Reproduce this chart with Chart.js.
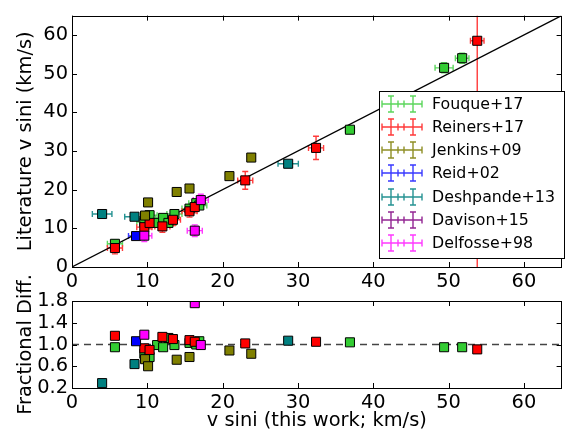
<!DOCTYPE html>
<html>
<head>
<meta charset="utf-8">
<script src="https://cdn.jsdelivr.net/npm/chart.js@4.4.0/dist/chart.umd.min.js"></script>
<style>
  html, body { margin: 0; padding: 0; background: #fff; }
  #wrap { position: relative; width: 569px; height: 437px; }
  canvas { position: absolute; left: 0; }
  #top { top: 0; }
  #bot { top: 230px; }
</style>
</head>
<body>
<div id="wrap">
  <canvas id="top" width="569" height="290"></canvas>
  <canvas id="bot" width="569" height="207"></canvas>
</div>
<script>
const FONT = 'DejaVu Sans';

const xTicks = [0, 10, 20, 30, 40, 50, 60];
const yTicks = [0, 10, 20, 30, 40, 50, 60];
const fracTicks = [0.2, 0.6, 1.0, 1.4, 1.8];

// Fouque+17
const fouqueX    = [5.7, 9.6, 10.3, 11.3, 12.1, 12.8, 13.6, 15.6, 16.5, 16.9, 36.9, 49.4, 51.8];
const fouqueY    = [6.0, 11.6, 13.4, 11.4, 12.7, 11.4, 13.7, 15.1, 16.5, 15.9, 35.5, 51.5, 54.0];
const fouqueXErr = [1.0, 1.0, 1.0, 1.0, 1.0, 1.0, 1.0, 1.0, 1.0, 1.0, 0.6, 1.2, 0.9];
const fouqueYErr = [1.0, 1.0, 1.0, 1.0, 1.0, 1.0, 1.0, 1.0, 1.0, 1.0, 0.8, 1.3, 1.3];
const fouqueFrac = [0.95, 0.83, 0.77, 0.99, 0.95, 1.12, 0.99, 1.03, 1.00, 1.06, 1.04, 0.95, 0.95];

// Reiners+17
const reinersX    = [5.7, 9.6, 10.3, 12.0, 13.4, 15.6, 16.3, 23.0, 32.4, 53.8];
const reinersY    = [4.9, 10.3, 11.4, 10.5, 12.2, 14.4, 15.5, 22.4, 30.8, 58.5];
const reinersXErr = [1.0, 1.0, 1.0, 1.0, 1.0, 1.0, 1.0, 1.0, 1.0, 0.9];
const reinersYErr = [1.5, 1.5, 1.5, 1.5, 1.5, 1.5, 1.5, 2.3, 3.0, 60];
const reinersFrac = [1.16, 0.93, 0.90, 1.14, 1.10, 1.08, 1.05, 1.02, 1.05, 0.91];

// Jenkins+09
const jenkinsX    = [9.7, 10.1, 13.9, 15.6, 20.9, 23.8];
const jenkinsY    = [13.3, 16.7, 19.4, 20.3, 23.5, 28.3];
const jenkinsXErr = [0.5, 0.5, 0.5, 0.5, 0.5, 0.5];
const jenkinsYErr = [0.5, 0.5, 0.5, 0.5, 0.5, 0.5];
const jenkinsFrac = [0.73, 0.60, 0.72, 0.77, 0.89, 0.83];

// Reid+02
const reidX    = [8.5];
const reidY    = [8.0];
const reidXErr = [1.0];
const reidYErr = [0.3];
const reidFrac = [1.06];

// Deshpande+13
const deshX    = [4.0, 8.3, 28.7];
const deshY    = [13.7, 13.0, 26.7];
const deshXErr = [1.3, 1.3, 1.35];
const deshYErr = [0.3, 0.3, 0.3];
const deshFrac = [0.29, 0.64, 1.07];

// Davison+15
const davisonX    = [];
const davisonY    = [];
const davisonXErr = [];
const davisonYErr = [];
const davisonFrac = [];

// Delfosse+98
const delfosseX    = [9.6, 16.3, 17.1];
const delfosseY    = [8.1, 9.4, 17.3];
const delfosseXErr = [1.0, 1.0, 1.0];
const delfosseYErr = [1.5, 1.5, 1.5];
const delfosseFrac = [1.18, 1.76, 0.99];

const series = [
  { label: 'Fouque+17',    x: fouqueX,   y: fouqueY,   xErr: fouqueXErr,   yErr: fouqueYErr,   frac: fouqueFrac,   color: '#33cc33', err: '#5cd65c' },
  { label: 'Reiners+17',   x: reinersX,  y: reinersY,  xErr: reinersXErr,  yErr: reinersYErr,  frac: reinersFrac,  color: '#ff0000', err: '#ff3a3a' },
  { label: 'Jenkins+09',   x: jenkinsX,  y: jenkinsY,  xErr: jenkinsXErr,  yErr: jenkinsYErr,  frac: jenkinsFrac,  color: '#808000', err: '#8f8f26' },
  { label: 'Reid+02',      x: reidX,     y: reidY,     xErr: reidXErr,     yErr: reidYErr,     frac: reidFrac,     color: '#0000ff', err: '#3a3aff' },
  { label: 'Deshpande+13', x: deshX,     y: deshY,     xErr: deshXErr,     yErr: deshYErr,     frac: deshFrac,     color: '#008080', err: '#269393' },
  { label: 'Davison+15',   x: davisonX,  y: davisonY,  xErr: davisonXErr,  yErr: davisonYErr,  frac: davisonFrac,  color: '#800080', err: '#932693' },
  { label: 'Delfosse+98',  x: delfosseX, y: delfosseY, xErr: delfosseXErr, yErr: delfosseYErr, frac: delfosseFrac, color: '#ff00ff', err: '#ff3aff' }
];

Chart.defaults.font.family = FONT;
Chart.defaults.color = '#000';

function setTicks(list) {
  return s => { s.ticks = list.map(v => ({ value: v })); };
}
const crisp = v => Math.round(v) + 0.5;

// frame + inward tick marks like matplotlib
const frame = {
  id: 'frame',
  afterDatasetsDraw(chart) {
    const { ctx, chartArea: a, scales: { x, y } } = chart;
    ctx.save();
    ctx.strokeStyle = '#000';
    ctx.lineWidth = 1;
    ctx.beginPath();
    x.ticks.forEach(t => {
      const px = crisp(x.getPixelForValue(t.value));
      ctx.moveTo(px, a.bottom); ctx.lineTo(px, a.bottom - 5);
      ctx.moveTo(px, a.top); ctx.lineTo(px, a.top + 5);
    });
    y.ticks.forEach(t => {
      const py = crisp(y.getPixelForValue(t.value));
      ctx.moveTo(a.left, py); ctx.lineTo(a.left + 5, py);
      ctx.moveTo(a.right, py); ctx.lineTo(a.right - 5, py);
    });
    ctx.stroke();
    ctx.strokeRect(Math.round(a.left) + 0.5, Math.round(a.top) + 0.5, Math.round(a.width) - 1, Math.round(a.height));
    ctx.restore();
  }
};

const errorBars = {
  id: 'errorBars',
  beforeDatasetsDraw(chart) {
    const { ctx, chartArea: a, scales: { x, y } } = chart;
    ctx.save();
    ctx.beginPath(); ctx.rect(a.left, a.top, a.width, a.height); ctx.clip();
    ctx.lineWidth = 1.4;
    chart.data.datasets.forEach(ds => {
      if (!ds.xErr) return;
      ctx.strokeStyle = ds.errColor;
      ds.data.forEach((p, i) => {
        const px = x.getPixelForValue(p.x), py = y.getPixelForValue(p.y);
        const x0 = x.getPixelForValue(p.x - ds.xErr[i]), x1 = x.getPixelForValue(p.x + ds.xErr[i]);
        const y0 = y.getPixelForValue(p.y - ds.yErr[i]), y1 = y.getPixelForValue(p.y + ds.yErr[i]);
        ctx.beginPath();
        ctx.moveTo(x0, py); ctx.lineTo(x1, py);
        ctx.moveTo(x0, py - 3); ctx.lineTo(x0, py + 3);
        ctx.moveTo(x1, py - 3); ctx.lineTo(x1, py + 3);
        ctx.moveTo(px, y0); ctx.lineTo(px, y1);
        ctx.moveTo(px - 3, y0); ctx.lineTo(px + 3, y0);
        ctx.moveTo(px - 3, y1); ctx.lineTo(px + 3, y1);
        ctx.stroke();
      });
    });
    ctx.restore();
  }
};

const boxLegend = {
  id: 'boxLegend',
  afterDraw(chart) {
    const { ctx } = chart;
    const L = 379, T = 91, R = 564, B = 258, row = 23.3;
    ctx.save();
    ctx.fillStyle = '#fff';
    ctx.fillRect(L, T, R - L, B - T);
    ctx.strokeStyle = '#000';
    ctx.lineWidth = 1;
    ctx.strokeRect(L + 0.5, T + 0.5, R - L, B - T);
    ctx.font = '15.8px "' + FONT + '"';
    ctx.textBaseline = 'middle';
    ctx.lineWidth = 1.4;
    series.forEach((s, i) => {
      const cy = Math.round(T + 12.5 + i * row);
      ctx.strokeStyle = s.err;
      ctx.beginPath();
      ctx.moveTo(382, cy); ctx.lineTo(422, cy);
      [382, 398, 404, 422].forEach(px => { ctx.moveTo(px, cy - 3.5); ctx.lineTo(px, cy + 3.5); });
      [391, 413].forEach(px => {
        ctx.moveTo(px, cy - 8); ctx.lineTo(px, cy + 8);
        ctx.moveTo(px - 3, cy - 8); ctx.lineTo(px + 3, cy - 8);
        ctx.moveTo(px - 3, cy + 8); ctx.lineTo(px + 3, cy + 8);
      });
      ctx.stroke();
      ctx.fillStyle = '#000';
      ctx.fillText(s.label, 432, cy + 1);
    });
    ctx.restore();
  }
};

const pointStyle = (s, order) => ({
  backgroundColor: s.color,
  borderColor: '#000',
  borderWidth: 1,
  pointStyle: 'rect',
  pointRadius: 6.4,
  pointHoverRadius: 6.4,
  order: order
});

// top panel
const topSets = series.map((s, i) => Object.assign({
  label: s.label,
  data: s.x.map((v, j) => ({ x: v, y: s.y[j] })),
  xErr: s.xErr, yErr: s.yErr, errColor: s.err
}, pointStyle(s, series.length - i)));
topSets.push({
  label: 'one-to-one', data: [{ x: 0, y: 0 }, { x: 65, y: 65 }],
  showLine: true, borderColor: '#000', borderWidth: 1.2, pointRadius: 0, order: 20
});

const tickFont = { size: 19.4 };
const titleFont = { size: 19.4 };

new Chart(document.getElementById('top'), {
  type: 'scatter',
  data: { datasets: topSets },
  options: {
    responsive: false, animation: false,
    layout: { padding: { top: 3, right: 1, left: 0, bottom: 0 } },
    plugins: { legend: { display: false }, tooltip: { enabled: false } },
    scales: {
      x: {
        min: 0, max: 65,
        afterBuildTicks: setTicks(xTicks),
        afterFit: s => { s.height = 23; },
        grid: { display: false, drawTicks: false },
        border: { display: false },
        ticks: { font: tickFont, padding: 3, maxRotation: 0, autoSkip: false }
      },
      y: {
        min: 0, max: 65,
        afterBuildTicks: setTicks(yTicks),
        afterFit: s => { s.width = 72; },
        grid: { display: false, drawTicks: false },
        border: { display: false },
        ticks: { font: tickFont, padding: 4, autoSkip: false },
        title: { display: true, text: 'Literature v sini (km/s)', font: titleFont, padding: { top: 14, bottom: 0 } }
      }
    }
  },
  plugins: [errorBars, frame, boxLegend]
});

// bottom panel
const botSets = series.map((s, i) => Object.assign({
  label: s.label,
  data: s.x.map((v, j) => ({ x: v, y: s.frac[j] }))
}, pointStyle(s, series.length - i)));
botSets.push({
  label: 'unity', data: [{ x: 0, y: 1 }, { x: 65, y: 1 }],
  showLine: true, borderColor: '#444', borderWidth: 1.5, borderDash: [7, 5], pointRadius: 0, order: 20
});

new Chart(document.getElementById('bot'), {
  type: 'scatter',
  data: { datasets: botSets },
  options: {
    responsive: false, animation: false,
    layout: { padding: { top: 71, right: 1, left: 0, bottom: 0 } },
    plugins: { legend: { display: false }, tooltip: { enabled: false } },
    scales: {
      x: {
        min: 0, max: 65,
        afterBuildTicks: setTicks(xTicks),
        afterFit: s => { s.height = 49; },
        grid: { display: false, drawTicks: false },
        border: { display: false },
        ticks: { font: tickFont, padding: 3, maxRotation: 0, autoSkip: false },
        title: { display: true, text: 'v sini (this work; km/s)', font: titleFont, padding: { top: 0, bottom: 4 } }
      },
      y: {
        min: 0.2, max: 1.8,
        afterBuildTicks: setTicks(fracTicks),
        afterFit: s => { s.width = 72; },
        grid: { display: false, drawTicks: false },
        border: { display: false },
        ticks: { font: tickFont, padding: 4, autoSkip: false, callback: v => v.toFixed(1) },
        title: { display: true, text: 'Fractional Diff.', font: titleFont, padding: { top: 14, bottom: 0 } }
      }
    }
  },
  plugins: [frame]
});
</script>
</body>
</html>
